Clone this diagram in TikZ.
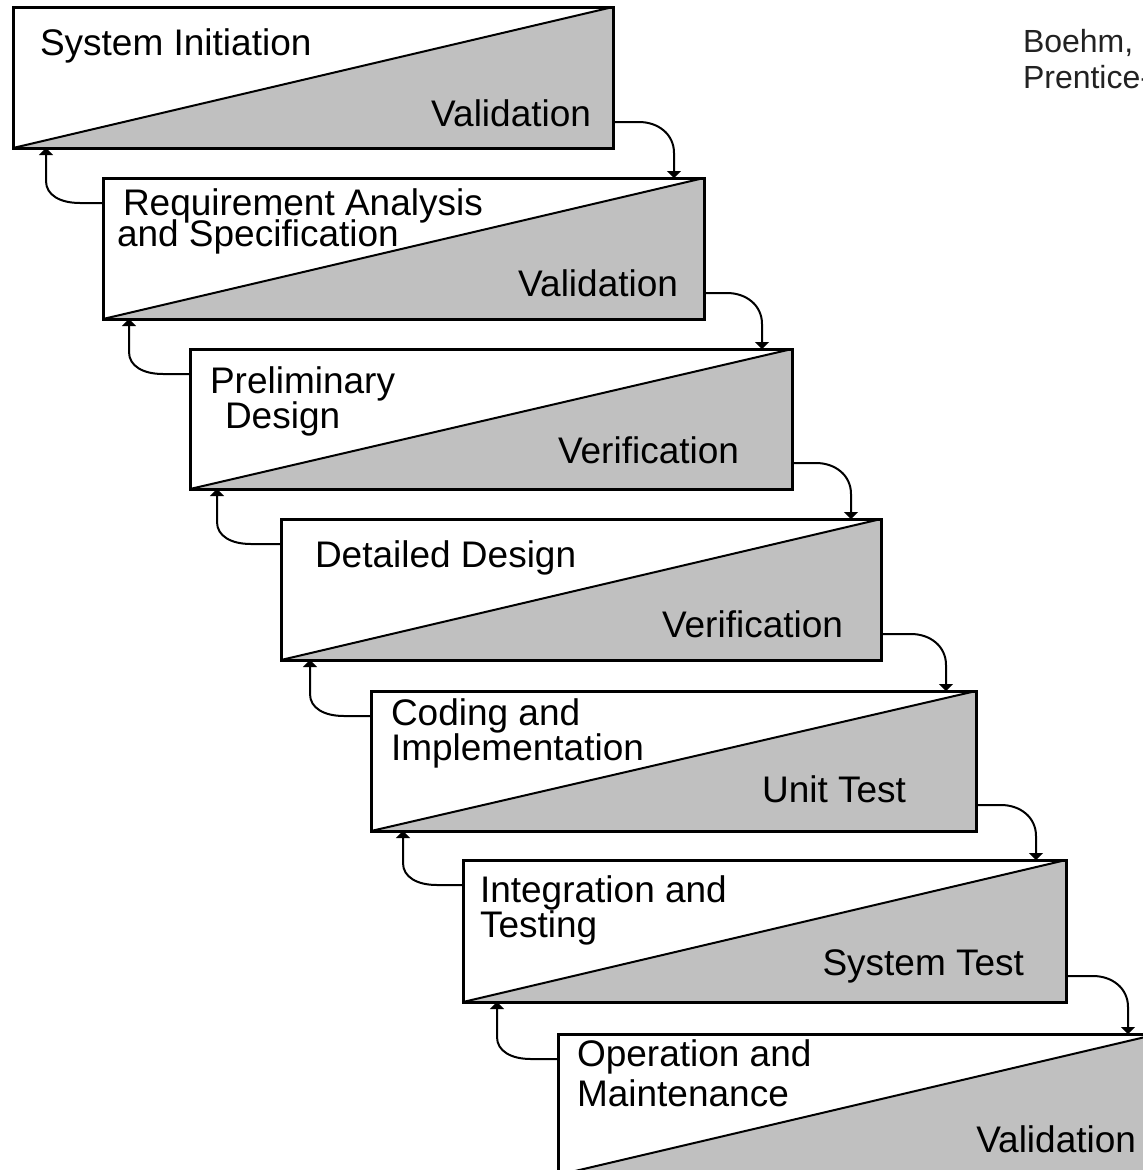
\documentclass[tikz,border=0pt]{standalone}
\usepackage{fontspec}
\setmainfont{Liberation Sans}
\usetikzlibrary{arrows.meta,calc}
\definecolor{boxgray}{HTML}{C0C0C0}
\definecolor{citegray}{HTML}{222222}
\begin{document}
\begin{tikzpicture}[x=1pt,y=-1pt,
  stepbox/.style={draw, line width=3pt, fill=white, minimum height=141pt,
    minimum width=601pt, inner sep=0pt, outer sep=0pt, anchor=north west,
    path picture={
      \fill[boxgray] (path picture bounding box.south west)
        -- (path picture bounding box.north east)
        -- (path picture bounding box.south east) -- cycle;
      \draw[line width=2pt] (path picture bounding box.south west)
        -- (path picture bounding box.north east);}},
  lbl/.style={inner sep=0pt, outer sep=0pt, font=\fontsize{37}{37}\selectfont, anchor=base west},
  rlbl/.style={lbl, anchor=base east},
  cite/.style={inner sep=0pt, outer sep=0pt, font=\fontsize{32}{36}\selectfont, text=citegray, anchor=base west},
  link/.style={line width=2pt, -{Triangle[width=14pt,length=7pt]}}
]
\useasboundingbox (0,0) rectangle (1143,1170);
\clip (0,0) rectangle (1143,1170);
\fill[white] (0,0) rectangle (1143,1170);

% the seven phases
\node[stepbox, minimum width=600pt] (b1) at (13,7) {};
\node[stepbox, minimum width=601pt] (b2) at (103,178) {};
\node[stepbox, minimum width=602pt, minimum height=140pt] (b3) at (190,349) {};
\node[stepbox, minimum width=600pt] (b4) at (281,519) {};
\node[stepbox, minimum width=605pt, minimum height=140pt] (b5) at (371,691) {};
\node[stepbox, minimum width=603pt, minimum height=142pt] (b6) at (463,860) {};
\node[stepbox, minimum width=600pt] (b7) at (558,1034) {};

% phase names
\node[lbl] (t1a) at (40,55) {System Initiation};
\node[lbl] (t2a) at (123,215) {Requirement Analysis};
\node[lbl] (t2b) at (117,246) {and Specification};
\node[lbl] (t3a) at (210,393) {Preliminary};
\node[lbl] (t3b) at (225,428) {Design};
\node[lbl] (t4a) at (315,567) {Detailed Design};
\node[lbl] (t5a) at (391,725) {Coding and};
\node[lbl] (t5b) at (391,760) {Implementation};
\node[lbl] (t6a) at (480,902) {Integration and};
\node[lbl] (t6b) at (480,937) {Testing};
\node[lbl] (t7a) at (577,1066) {Operation and};
\node[lbl] (t7b) at (577,1106) {Maintenance};

% checks closing each phase
\node[rlbl] (v1) at (591,126) {Validation};
\node[rlbl] (v2) at (678,296) {Validation};
\node[rlbl] (v3) at (739,463) {Verification};
\node[rlbl] (v4) at (843,637) {Verification};
\node[rlbl] (v5) at (906,802) {Unit Test};
\node[rlbl] (v6) at (1024,975) {System Test};
\node[rlbl] (v7) at (1136,1152) {Validation};

% source
\node[cite] (src1) at (1023,52) {Boehm,};
\node[cite] (src2) at (1023,88) {Prentice-};

% forward flow: from each phase down to the next
\foreach \i/\j in {1/2,2/3,3/4,4/5,5/6,6/7}{
  \draw[link] let \p1 = ($(b\i.south east)+(0,-26)$),
                  \p2 = ($(b\j.north east)+(-30,0)$) in
    (\p1) -- (\x2-35pt,\y1)
    .. controls (\x2-16pt,\y1) and (\x2,\y1-12pt) .. (\x2,\y1-31pt)
    -- (\p2);
}

% feedback: from each phase back up to the previous one
\foreach \i/\j/\u in {1/2/33,2/3/26,3/4/27,4/5/29,5/6/32,6/7/34}{
  \draw[link] let \p1 = ($(b\j.north west)+(0,25)$),
                  \p2 = ($(b\i.south west)+(\u,0)$) in
    (\p1) -- (\x2+34pt,\y1)
    .. controls (\x2+14pt,\y1) and (\x2,\y1+8pt) .. (\x2,\y1+22pt)
    -- (\p2);
}
\end{tikzpicture}
\end{document}
